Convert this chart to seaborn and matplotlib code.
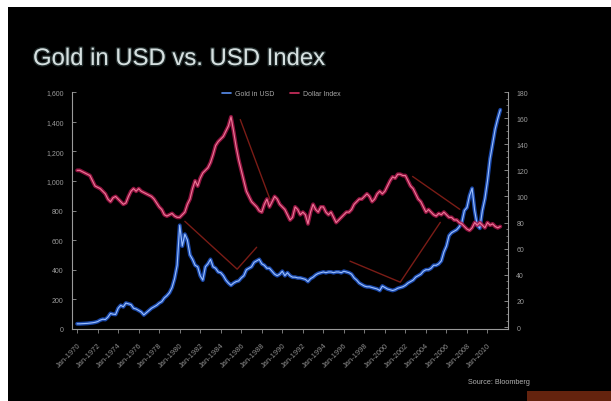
import numpy as np
import pandas as pd
import matplotlib
matplotlib.use("Agg")
import matplotlib.pyplot as plt
import matplotlib.patheffects as pe
from matplotlib.patches import Rectangle
from matplotlib.ticker import MultipleLocator
from matplotlib.lines import Line2D
import seaborn as sns

# ---------------- data (quarterly) ----------------
gold_usd = [
    35, 35, 36, 37,        # 1970
    38, 40, 42, 45,        # 1971
    50, 60, 66, 64,        # 1972
    80, 105, 100, 98,      # 1973
    140, 160, 150, 175,    # 1974
    170, 165, 140, 135,    # 1975
    125, 115, 95, 110,     # 1976
    125, 140, 150, 160,    # 1977
    175, 185, 210, 225,    # 1978
    245, 280, 340, 430,    # 1979
    700, 560, 640, 600,    # 1980
    500, 470, 430, 420,    # 1981
    360, 330, 420, 440,    # 1982
    470, 420, 410, 385,    # 1983
    380, 360, 330, 310,    # 1984
    295, 310, 320, 325,    # 1985
    345, 360, 400, 410,    # 1986
    420, 450, 460, 470,    # 1987
    440, 430, 410, 410,    # 1988
    390, 370, 360, 370,    # 1989
    390, 360, 380, 360,    # 1990
    350, 350, 345, 345,    # 1991
    340, 335, 320, 340,    # 1992
    350, 365, 375, 380,    # 1993
    385, 380, 385, 385,    # 1994
    380, 385, 385, 380,    # 1995
    390, 385, 380, 370,    # 1996
    345, 330, 310, 300,    # 1997
    290, 285, 285, 280,    # 1998
    275, 270, 260, 290,    # 1999
    280, 270, 265, 260,    # 2000
    265, 275, 280, 285,    # 2001
    295, 310, 320, 330,    # 2002
    350, 360, 370, 390,    # 2003
    400, 400, 410, 430,    # 2004
    430, 440, 460, 520,    # 2005
    560, 630, 650, 660,    # 2006
    670, 690, 720, 800,    # 2007
    820, 900, 950, 800,    # 2008
    700, 680, 800, 880,    # 2009
    1000, 1150, 1250, 1350,  # 2010
    1420, 1480,            # 2011
]

dollar_index = [
    120, 120, 119, 118,    # 1970
    117, 116, 112, 108,    # 1971
    107, 106, 104, 102,    # 1972
    98, 96, 99, 100,       # 1973
    98, 96, 94, 95,        # 1974
    100, 104, 106, 104,    # 1975
    106, 104, 103, 102,    # 1976
    101, 100, 98, 95,      # 1977
    92, 90, 86, 85,        # 1978
    86, 87, 85, 84,        # 1979
    84, 86, 88, 94,        # 1980
    98, 106, 112, 108,     # 1981
    114, 118, 120, 122,    # 1982
    126, 132, 139, 142,    # 1983
    144, 146, 150, 154,    # 1984
    161, 150, 138, 128,    # 1985
    120, 112, 104, 100,    # 1986
    96, 94, 92, 89,        # 1987
    88, 94, 98, 92,        # 1988
    96, 100, 98, 94,       # 1989
    92, 90, 86, 82,        # 1990
    84, 92, 90, 86,        # 1991
    88, 86, 79, 88,        # 1992
    94, 90, 88, 92,        # 1993
    92, 88, 86, 88,        # 1994
    84, 80, 82, 84,        # 1995
    86, 88, 88, 90,        # 1996
    94, 96, 98, 98,        # 1997
    100, 102, 100, 96,     # 1998
    98, 102, 104, 102,     # 1999
    104, 108, 112, 115,    # 2000
    114, 117, 117, 116,    # 2001
    116, 112, 108, 106,    # 2002
    102, 98, 96, 92,       # 2003
    88, 90, 88, 86,        # 2004
    85, 87, 86, 88,        # 2005
    86, 84, 84, 82,        # 2006
    82, 80, 79, 77,        # 2007
    75, 74, 76, 80,        # 2008
    78, 80, 78, 76,        # 2009
    80, 78, 79, 77,        # 2010
    76, 77,                # 2011
]

period = pd.date_range("1970-01-01", periods=len(gold_usd), freq="QS")
year_pos = period.year + (period.month - 1) / 12.0

# thin dark-red overlay segments (year, value on the gold axis)
overlay_seg = [1, 1, 1, 2, 2, 3, 3, 3, 4, 4]
overlay_year = [1980.5, 1985.6, 1987.5, 1985.9, 1988.8,
                1996.6, 2001.5, 2005.4, 2002.7, 2007.3]
overlay_val = [727, 404, 552, 1414, 875, 458, 316, 720, 1030, 808]

x_tick_years = list(range(1970, 2011, 2))
x_tick_labels = [f"Jan-{y}" for y in x_tick_years]
left_ticks = [0, 200, 400, 600, 800, 1000, 1200, 1400, 1600]
left_labels = ["0", "200", "400", "600", "800", "1,000", "1,200", "1,400", "1,600"]
right_ticks = [0, 20, 40, 60, 80, 100, 120, 140, 160, 180]

df = pd.DataFrame({"year": year_pos, "gold": gold_usd, "dollar": dollar_index})
ov = pd.DataFrame({"seg": overlay_seg, "year": overlay_year, "val": overlay_val})

# ---------------- figure ----------------
sns.set_theme(style="dark")
plt.rcParams["font.family"] = ["Liberation Sans", "DejaVu Sans"]

W, H = 611, 402
fig = plt.figure(figsize=(W / 100, H / 100), dpi=100)
fig.patch.set_facecolor("white")
fig.patches.append(Rectangle((8 / W, 0), 1, 1 - 8 / H, transform=fig.transFigure,
                             facecolor="black", edgecolor="none", zorder=-10))

ax = fig.add_axes([72 / W, 1 - 330 / H, 436 / W, 237 / H])
ax.set_facecolor("black")
ax2 = ax.twinx()
ax2.set_facecolor("none")

# overlay thin lines
sns.lineplot(data=ov, x="year", y="val", units="seg", estimator=None, ax=ax,
             color="#7a1c16", lw=1.0, legend=False, zorder=2)

# gold: glow + core
sns.lineplot(data=df, x="year", y="gold", ax=ax, color="#1f55c8", lw=2.8,
             alpha=0.85, legend=False, zorder=3)
sns.lineplot(data=df, x="year", y="gold", ax=ax, color="#9cc0ff", lw=0.8,
             legend=False, zorder=4)

# dollar: glow + core
sns.lineplot(data=df, x="year", y="dollar", ax=ax2, color="#a8164a", lw=2.8,
             alpha=0.85, legend=False, zorder=3)
sns.lineplot(data=df, x="year", y="dollar", ax=ax2, color="#ee7898", lw=0.8,
             legend=False, zorder=4)

ax.set_xlim(1969.5, 2012.0)
ax.set_ylim(0, 1600)
ax2.set_ylim(-1.5, 180)

ax.set_xticks(x_tick_years)
ax.set_xticklabels(x_tick_labels, rotation=45, ha="right", rotation_mode="anchor")
ax.set_yticks(left_ticks)
ax.set_yticklabels(left_labels)
ax2.set_yticks(right_ticks)
ax2.set_yticklabels([str(v) for v in right_ticks])
ax2.yaxis.set_minor_locator(MultipleLocator(5))
ax.set_xlabel("")
ax.set_ylabel("")
ax2.set_ylabel("")
ax.grid(False)
ax2.grid(False)

spine_col = "#9a9a9a"
for a in (ax, ax2):
    for s in a.spines.values():
        s.set_visible(False)
ax.spines["left"].set_visible(True)
ax.spines["bottom"].set_visible(True)
ax2.spines["right"].set_visible(True)
for s in (ax.spines["left"], ax.spines["bottom"], ax2.spines["right"]):
    s.set_color(spine_col)
    s.set_linewidth(0.8)

ax.tick_params(axis="x", colors="#8e8e8e", labelsize=5.4, direction="out",
               length=3, width=0.6, pad=6, bottom=True)
ax.tick_params(axis="y", colors="#9a9a9a", labelsize=5.0, direction="in",
               length=3, width=0.6, pad=6, left=True)
ax2.tick_params(axis="y", which="major", colors="#9a9a9a", labelsize=5.0,
                direction="in", length=3, width=0.6, pad=6, right=True)
ax2.tick_params(axis="y", which="minor", colors="#9a9a9a", direction="in",
                length=1.5, width=0.5, right=True)

# legend
handles = [Line2D([], [], color="#5a8ef0", lw=1.2),
           Line2D([], [], color="#d03060", lw=1.2)]
fig.legend(handles, ["Gold in USD", "Dollar Index"], loc="center",
           bbox_to_anchor=(281 / W, 1 - 95 / H), ncol=2, frameon=False,
           fontsize=5.0, labelcolor="#a8a8a8", handlelength=1.3,
           columnspacing=2.2, handletextpad=0.6)

# title
fig.text(33 / W, 1 - 66 / H, "Gold in USD vs. USD Index",
         fontsize=17.2, color="#d6e0e0", ha="left", va="baseline",
         path_effects=[pe.withStroke(linewidth=2.0, foreground="#3a4a4a", alpha=0.6)])

# source
fig.text(530 / W, 1 - 383 / H, "Source: Bloomberg", fontsize=5.2,
         color="#b0b0b0", ha="right", va="center")
fig.patches.append(Rectangle((527 / W, 0), 84 / W, 10 / H, transform=fig.transFigure,
                             facecolor="#b8401a", edgecolor="none", alpha=0.55,
                             zorder=-5))

fig.savefig("out.png", dpi=100, facecolor=fig.get_facecolor())
